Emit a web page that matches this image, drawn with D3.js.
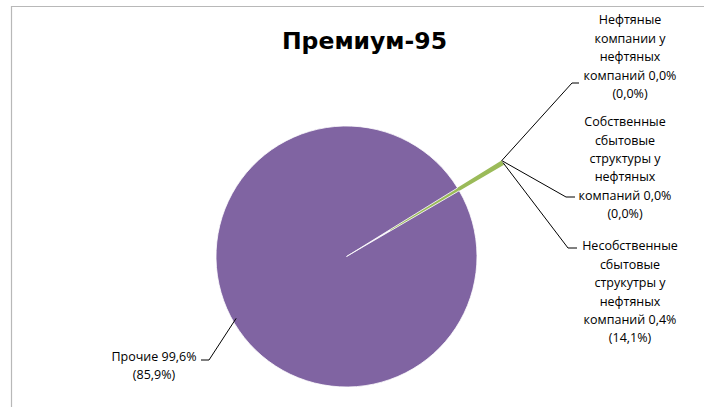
<!DOCTYPE html>
<html><head><meta charset="utf-8">
<script src="https://cdn.jsdelivr.net/npm/d3@7"></script>
<style>html,body{margin:0;padding:0;background:#fff;}svg{display:block;}</style>
</head><body>
<svg id="c" width="704" height="407"></svg>
<script>
const categories = ["Нефтяные компании у нефтяных компаний", "Собственные сбытовые структуры у нефтяных компаний", "Несобственные сбытовые структуры у нефтяных компаний", "Прочие"];
const values = [0.0, 0.0, 0.4, 99.6];
const secondValues = ["0,0%", "0,0%", "14,1%", "85,9%"];
const labelLines = [
  ["Нефтяные", "компании у", "нефтяных", "компаний 0,0%", "(0,0%)"],
  ["Собственные", "сбытовые", "структуры у", "нефтяных", "компаний 0,0%", "(0,0%)"],
  ["Несобственные", "сбытовые", "струкутры у", "нефтяных", "компаний 0,4%", "(14,1%)"],
  ["Прочие 99,6%", "(85,9%)"]
];
const colors = ["#4F81BD", "#C0504D", "#9BBB59", "#8064A2"];
const title = "Премиум-95";

const svg = d3.select("#c");
const font = "'Open Sans', sans-serif";

// chart area border
svg.append("path").attr("d", "M11.5,420V6.5H720").attr("fill", "none").attr("stroke", "#b8b8b8").attr("stroke-width", 1.2);

svg.append("text").attr("x", 364.5).attr("y", 48.5).attr("text-anchor", "middle")
  .attr("font-family", "'DejaVu Sans', sans-serif").attr("font-weight", "bold").attr("font-size", 23.5).attr("fill", "#000").text(title);

const cx = 346.5, cy = 256.5, R = 130.5, explode = 51;
const start = 58.3 * Math.PI / 180;
const pie = d3.pie().sort(null).value(d => d).startAngle(start).endAngle(start + 2 * Math.PI);
const arcs = pie(values);
const arc = d3.arc().innerRadius(0).outerRadius(R);

const g = svg.append("g").attr("transform", `translate(${cx},${cy})`);
function offs(d, i) {
  if (i === 3) return [0, 0];
  const a = (d.startAngle + d.endAngle) / 2;
  return [Math.sin(a) * explode, -Math.cos(a) * explode];
}
g.selectAll("path.slice").data(arcs).join("path").attr("class", "slice")
  .attr("d", arc)
  .attr("transform", (d, i) => { const o = offs(d, i); return `translate(${o[0]},${o[1]})`; })
  .attr("fill", (d, i) => colors[i])
  .attr("stroke", (d, i) => i === 3 ? "#fff" : (d.value > 0 ? colors[i] : "none"))
  .attr("stroke-width", (d, i) => i === 3 ? 0.8 : 1.6);

const layout = [
  {x: 630, y: 20, step: 18.5, lx: 572, ly: 83, hx: 579},
  {x: 625, y: 122, step: 18.3, lx: 566, ly: 197, hx: 575},
  {x: 630, y: 246, step: 18.4, lx: 568, ly: 248, hx: 577},
  {x: 154, y: 357, step: 18, lx: 209, ly: 360, hx: 201}
];
arcs.forEach((d, i) => {
  const o = offs(d, i);
  const a = (d.startAngle + d.endAngle) / 2;
  const rr = i === 3 ? R - 4 : R + 1;
  const px = cx + o[0] + Math.sin(i === 3 ? a + 0.03 : a) * rr;
  const py = cy + o[1] - Math.cos(i === 3 ? a + 0.03 : a) * rr;
  const L = layout[i];
  svg.append("path").attr("d", `M${px},${py}L${L.lx},${L.ly}L${L.hx},${L.ly}`)
    .attr("fill", "none").attr("stroke", "#000").attr("stroke-width", 1);
  const t = svg.append("text").attr("font-family", font).attr("font-size", 12.5).attr("fill", "#000")
    .attr("text-anchor", "middle");
  labelLines[i].forEach((s, k) => {
    t.append("tspan").attr("x", L.x).attr("y", L.y + k * L.step).attr("dy", "0.35em").text(s);
  });
});
</script>
</body></html>
